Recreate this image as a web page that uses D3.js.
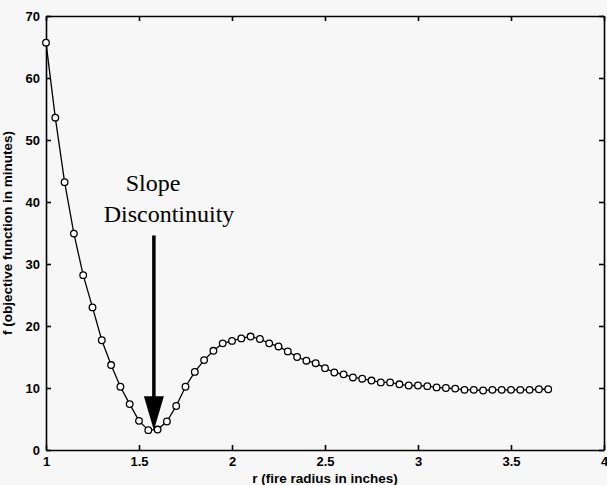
<!DOCTYPE html>
<html>
<head>
<meta charset="utf-8">
<title>Objective function vs fire radius</title>
<style>
body { margin: 0; background: #f7f7f7; }
svg { display: block; background: #f7f7f7; }
.axis path, .axis line { stroke: #000; stroke-width: 1.6px; }
.axis text { font-family: "Liberation Sans", Arial, sans-serif; font-weight: bold; font-size: 13px; fill: #000; }
.label { font-family: "Liberation Sans", Arial, sans-serif; font-weight: bold; font-size: 13.5px; fill: #000; }
.note { font-family: "Liberation Serif", "Times New Roman", serif; font-size: 24px; fill: #000; }
.curve { fill: none; stroke: #000; stroke-width: 1.3px; }
.dot { fill: #fff; stroke: #000; stroke-width: 1.3px; }
</style>
</head>
<body>
<script src="https://cdnjs.cloudflare.com/ajax/libs/d3/7.8.5/d3.min.js"></script>
<script>

// fire radius (inches)
var radius = [1.00, 1.05, 1.10, 1.15, 1.20, 1.25, 1.30, 1.35, 1.40, 1.45,
              1.50, 1.55, 1.60, 1.65, 1.70, 1.75, 1.80, 1.85, 1.90, 1.95,
              2.00, 2.05, 2.10, 2.15, 2.20, 2.25, 2.30, 2.35, 2.40, 2.45,
              2.50, 2.55, 2.60, 2.65, 2.70, 2.75, 2.80, 2.85, 2.90, 2.95,
              3.00, 3.05, 3.10, 3.15, 3.20, 3.25, 3.30, 3.35, 3.40, 3.45,
              3.50, 3.55, 3.60, 3.65, 3.70];

// objective function (minutes)
var objective = [65.7, 53.6, 43.2, 34.9, 28.2, 23.0, 17.7, 13.7, 10.2, 7.4,
                 4.7, 3.2, 3.3, 4.6, 7.1, 10.2, 12.6, 14.5, 16.0, 17.2,
                 17.6, 18.0, 18.3, 17.9, 17.2, 16.7, 15.9, 15.0, 14.4, 14.0,
                 13.2, 12.5, 12.2, 11.7, 11.5, 11.2, 10.9, 10.9, 10.6, 10.4,
                 10.4, 10.3, 10.1, 10.0, 9.9, 9.7, 9.7, 9.6, 9.7, 9.7,
                 9.7, 9.7, 9.7, 9.8, 9.8];

var xTicks = [1, 1.5, 2, 2.5, 3, 3.5, 4];
var yTicks = [0, 10, 20, 30, 40, 50, 60, 70];

var noteLines = ["Slope", "Discontinuity"];
var noteAt = { r: 1.58, top: 34.6, tip: 3.2 };

var width = 607,
    height = 485,
    margin = { top: 16, right: 3, bottom: 35, left: 46 };

var svg = d3.select("body").append("svg")
    .attr("width", width)
    .attr("height", height);

var x = d3.scaleLinear().domain([1, 4]).range([margin.left, width - margin.right]);
var y = d3.scaleLinear().domain([0, 70]).range([height - margin.bottom, margin.top]);

var fmt = function(d) { return d3.format("")(d); };

// axes, ticks pointing inward on all four sides
svg.append("g").attr("class", "axis")
    .attr("transform", "translate(0," + y(0) + ")")
    .call(d3.axisBottom(x).tickValues(xTicks).tickFormat(fmt).tickSize(-5).tickSizeOuter(0).tickPadding(7));

svg.append("g").attr("class", "axis")
    .attr("transform", "translate(0," + y(70) + ")")
    .call(d3.axisTop(x).tickValues(xTicks).tickFormat("").tickSize(-5).tickSizeOuter(0));

svg.append("g").attr("class", "axis")
    .attr("transform", "translate(" + x(1) + ",0)")
    .call(d3.axisLeft(y).tickValues(yTicks).tickFormat(fmt).tickSize(-5).tickSizeOuter(0).tickPadding(6));

svg.append("g").attr("class", "axis")
    .attr("transform", "translate(" + x(4) + ",0)")
    .call(d3.axisRight(y).tickValues(yTicks).tickFormat("").tickSize(-5).tickSizeOuter(0));

svg.selectAll(".axis .domain").attr("stroke-width", 2);

// axis titles
svg.append("text").attr("class", "label")
    .attr("x", (x(1) + x(4)) / 2)
    .attr("y", height - 2)
    .attr("text-anchor", "middle")
    .text("r (fire radius in inches)");

svg.append("text").attr("class", "label")
    .attr("transform", "translate(12," + (y(0) + y(70)) / 2 + ")rotate(-90)")
    .attr("text-anchor", "middle")
    .text("f (objective function in minutes)");

// curve and markers
var pts = radius.map(function(r, i) { return [r, objective[i]]; });

svg.append("path")
    .datum(pts)
    .attr("class", "curve")
    .attr("d", d3.line().x(function(d) { return x(d[0]); }).y(function(d) { return y(d[1]); }));

svg.selectAll(".dot")
    .data(pts)
  .enter().append("circle")
    .attr("class", "dot")
    .attr("cx", function(d) { return x(d[0]); })
    .attr("cy", function(d) { return y(d[1]); })
    .attr("r", 3.3);

// annotation
var ax = x(noteAt.r);
svg.append("line")
    .attr("x1", ax).attr("x2", ax)
    .attr("y1", y(noteAt.top)).attr("y2", y(noteAt.tip) - 30)
    .attr("stroke", "#000").attr("stroke-width", 3.5);

svg.append("path")
    .attr("d", "M" + (ax - 10) + "," + (y(noteAt.tip) - 34) +
               "L" + (ax + 10) + "," + (y(noteAt.tip) - 34) +
               "L" + ax + "," + y(noteAt.tip) + "Z")
    .attr("fill", "#000");

svg.append("text").attr("class", "note")
    .attr("x", 153).attr("y", 191)
    .attr("text-anchor", "middle")
    .text(noteLines[0]);

svg.append("text").attr("class", "note")
    .attr("x", 169).attr("y", 222)
    .attr("text-anchor", "middle")
    .text(noteLines[1]);

</script>
</body>
</html>
